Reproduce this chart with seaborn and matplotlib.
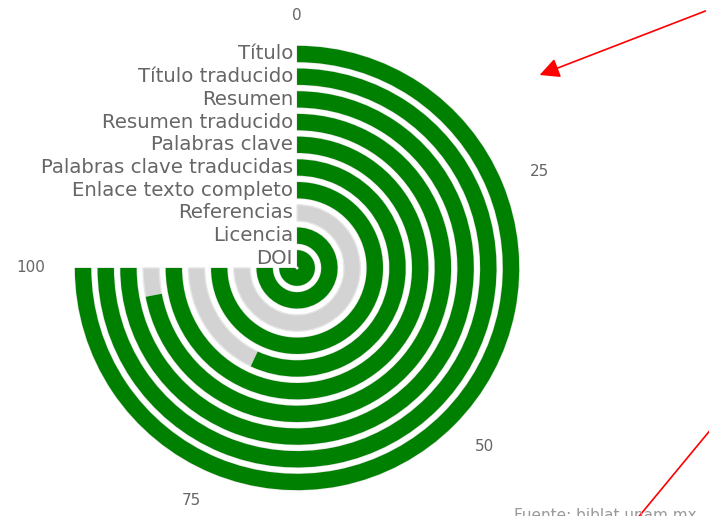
import numpy as np
import pandas as pd
import matplotlib
matplotlib.use("Agg")
import matplotlib.pyplot as plt
import matplotlib.transforms as mtransforms
import seaborn as sns

campos = ["Título", "Título traducido", "Resumen", "Resumen traducido", "Palabras clave",
          "Palabras clave traducidas", "Enlace texto completo", "Referencias", "Licencia", "DOI"]
porcentaje = [100, 100, 100, 96, 100, 76, 100, 0, 100, 100]
escala = [0, 25, 50, 75, 100]

GRADOS = 270  # the gauge covers three quarters of the circle
VERDE = "#008000"
GRIS = "#d3d3d3"
TEXTO = "#666666"

df = pd.DataFrame({"campo": campos, "porcentaje": porcentaje})
df["total"] = 100
df["theta"] = np.deg2rad(df["porcentaje"] * GRADOS / 100)
df["theta_total"] = np.deg2rad(df["total"] * GRADOS / 100)

sns.set_style("white")
plt.rcParams["font.family"] = ["DejaVu Sans"]

fig = plt.figure(figsize=(7.09, 5.16), dpi=100)
ax = fig.add_axes([0.1016, 0.0446, 0.6347, 0.8721], projection="polar")
ax.set_theta_zero_location("N")
ax.set_theta_direction(-1)

# background tracks then the actual values
sns.barplot(data=df, x="theta_total", y="campo", orient="y", color=GRIS, saturation=1,
            width=0.72, edgecolor="#e6e6e6", linewidth=1, ax=ax)
sns.barplot(data=df, x="theta", y="campo", orient="y", color=VERDE, saturation=1,
            width=0.72, linewidth=0, ax=ax)

ax.set_xlim(0, 2 * np.pi)
ax.set_ylim(9.427, -0.485)
ax.grid(False)
ax.spines["polar"].set_visible(False)
ax.set_xlabel("")
ax.set_ylabel("")
ax.set_yticks([])

ax.set_xticks(np.deg2rad(np.array(escala) * GRADOS / 100))
ax.set_xticklabels([str(v) for v in escala], fontsize=11, color=TEXTO)
ax.tick_params(axis="x", pad=9)
# labels on the sides sit with their edge against the circle, like highcharts does
for lbl, ha in zip(ax.get_xticklabels(), ["center", "left", "left", "right", "right"]):
    lbl.set_horizontalalignment(ha)

shift = mtransforms.offset_copy(ax.transData, fig=fig, x=-4, y=0, units="dots")
for i, campo in enumerate(campos):
    ax.text(0, i, campo, ha="right", va="center", fontsize=14.2, color=TEXTO,
            transform=shift, clip_on=False)

# annotations drawn over the screenshot
fig.add_artist(matplotlib.patches.FancyArrowPatch(
    (708 / 709, 1 - 10 / 516), (537 / 709, 1 - 76 / 516), transform=fig.transFigure,
    arrowstyle="-|>,head_length=12,head_width=6", color="red", linewidth=1.2))
fig.add_artist(matplotlib.lines.Line2D(
    [712 / 709, 636 / 709], [1 - 428 / 516, 1 - 520 / 516], transform=fig.transFigure,
    color="red", linewidth=1.2))

fig.text(697 / 709, -4 / 516, "Fuente: biblat.unam.mx", ha="right", va="baseline",
         fontsize=11, color="#999999")

fig.savefig("out.png", dpi=100, facecolor="white")
